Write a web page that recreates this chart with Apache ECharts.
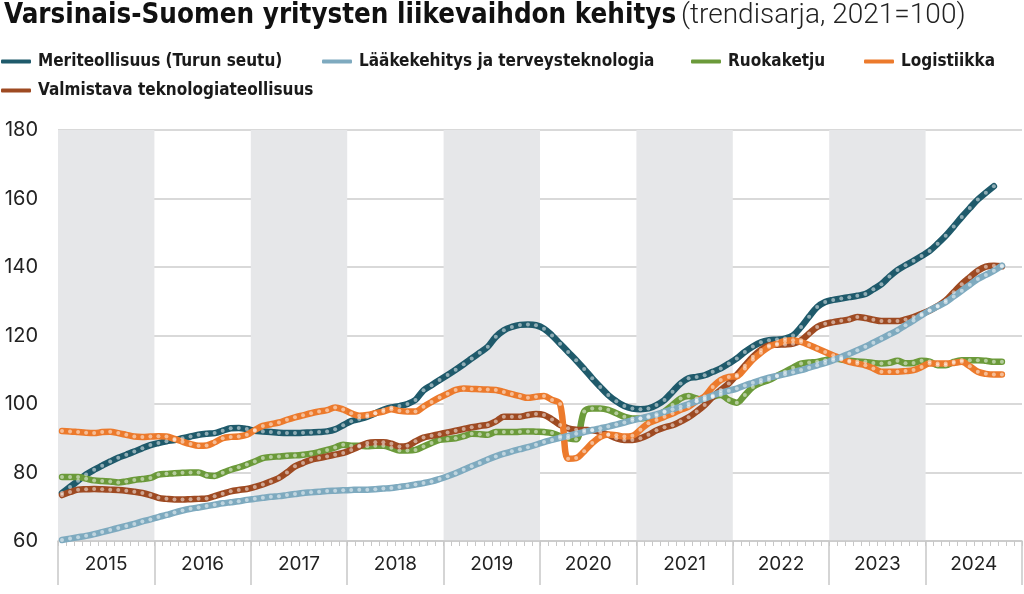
<!DOCTYPE html>
<html>
<head>
<meta charset="utf-8">
<script src="https://cdn.jsdelivr.net/npm/echarts@6/dist/echarts.min.js"></script>
<style>
html,body{margin:0;padding:0;background:#fff;}
#c{width:1024px;height:594px;}
</style>
</head>
<body>
<div id="c"></div>
<script>
const years = ['2015','2016','2017','2018','2019','2020','2021','2022','2023','2024'];
const seriesNames = ['Meriteollisuus (Turun seutu)','Lääkekehitys ja terveysteknologia','Ruokaketju','Logistiikka','Valmistava teknologiateollisuus'];
const colors = ['#1f5a6b','#7eaabf','#6b9a3a','#ec7a2c','#9e4a22'];

// Monthly values, Jan 2015 ->
const meriteollisuus = [74.0,75.8,77.6,79.4,80.8,82.0,83.2,84.3,85.2,86.1,87.1,88.0,
88.6,89.1,89.5,90.0,90.5,91.0,91.3,91.5,92.2,92.9,93.0,92.7,
92.2,92.0,91.8,91.6,91.5,91.5,91.6,91.7,91.8,92.0,92.6,93.8,
95.0,95.6,96.3,97.3,98.3,99.0,99.4,100.0,101.2,104.0,105.5,107.0,
108.5,110.0,111.6,113.3,115.0,116.7,119.6,121.5,122.5,123.1,123.2,123.0,
122.0,120.0,117.6,115.2,112.8,110.2,107.5,105.0,102.6,100.8,99.4,98.7,
98.5,98.7,99.7,101.2,103.6,106.0,107.5,107.9,108.4,109.4,110.4,111.8,
113.3,115.2,116.8,118.0,118.6,118.8,119.1,120.0,122.5,125.5,128.3,129.8,
130.4,130.8,131.2,131.6,132.1,133.5,135.0,137.2,139.1,140.5,141.8,143.2,
144.7,146.8,149.1,151.8,154.6,157.2,159.7,161.7,163.6];

const laakekehitys = [60.3,60.7,61.1,61.5,62.0,62.6,63.2,63.8,64.4,65.0,65.7,66.3,
67.0,67.6,68.3,68.9,69.4,69.8,70.2,70.6,71.0,71.3,71.6,72.0,
72.3,72.6,72.9,73.1,73.4,73.7,74.0,74.2,74.4,74.6,74.7,74.8,
74.9,75.0,75.0,75.1,75.3,75.5,75.8,76.1,76.5,76.9,77.4,78.1,
78.9,79.8,80.8,81.8,82.8,83.8,84.7,85.5,86.2,86.8,87.4,88.1,
88.9,89.5,90.1,90.7,91.3,91.8,92.4,92.9,93.4,94.0,94.6,95.2,
95.8,96.4,97.0,97.7,98.5,99.2,100.0,100.8,101.6,102.5,103.3,103.9,
104.5,105.4,106.2,107.0,107.7,108.2,108.7,109.3,109.9,110.6,111.3,112.0,
112.8,113.7,114.7,115.7,116.7,117.9,119.1,120.3,121.5,123.0,124.4,125.9,
127.3,128.5,129.7,131.4,133.1,134.8,136.5,137.7,138.9,140.4];

const ruokaketju = [78.7,78.7,78.7,78.2,77.7,77.5,77.4,77.1,77.4,77.8,78.1,78.4,
79.4,79.6,79.8,79.9,80.0,80.0,79.2,79.0,79.9,80.8,81.5,82.3,
83.2,84.2,84.5,84.7,84.9,85.0,85.2,85.5,86.0,86.6,87.3,88.1,
87.8,87.8,87.7,87.8,87.8,87.2,86.4,86.4,86.6,87.6,88.6,89.5,
89.8,90.0,90.6,91.3,91.2,91.0,91.8,91.8,91.8,91.9,92.0,91.9,
91.8,91.5,90.6,90.0,89.7,97.8,98.7,98.7,98.3,97.3,96.3,95.8,
95.8,96.1,96.5,97.8,99.7,101.6,102.3,101.6,101.2,102.1,102.6,101.2,
100.4,102.6,105.0,106.2,107.0,108.2,109.4,110.6,111.8,112.1,112.3,112.8,
113.3,113.0,112.6,112.4,112.3,112.0,111.8,112.0,112.6,111.9,112.0,112.6,
112.4,111.3,111.3,112.3,112.8,112.8,112.8,112.6,112.3,112.3];

const logistiikka = [92.1,92.0,91.8,91.6,91.5,91.8,91.9,91.5,91.0,90.5,90.4,90.5,
90.6,90.5,89.8,89.0,88.3,87.8,87.9,88.8,90.0,90.4,90.5,91.0,
92.4,93.6,94.1,94.6,95.4,96.1,96.7,97.3,97.8,98.2,99.0,98.4,
97.3,96.6,96.8,97.3,97.8,98.5,98.0,97.8,97.8,99.2,100.6,101.9,
103.0,104.1,104.5,104.4,104.3,104.2,104.1,103.5,102.9,102.3,101.8,102.1,
102.3,101.2,100.0,84.0,84.2,86.2,88.6,90.4,91.1,90.9,90.5,90.7,
92.5,94.4,95.3,96.3,97.2,98.3,99.2,100.9,102.2,105.0,107.0,107.9,
108.1,110.4,113.0,115.0,116.7,117.6,118.4,118.6,118.1,117.2,116.2,115.2,
114.2,113.2,112.3,111.8,111.3,110.4,109.4,109.4,109.4,109.6,109.9,110.8,
111.8,111.8,111.8,112.0,112.3,111.0,109.4,108.8,108.6,108.6];

const valmistava = [73.4,74.3,75.0,75.1,75.2,75.1,75.0,74.9,74.7,74.4,74.0,73.4,
72.6,72.3,72.1,72.1,72.2,72.3,72.4,73.1,73.8,74.5,74.9,75.2,
75.8,76.5,77.4,78.4,80.0,81.8,82.8,83.7,84.2,84.7,85.2,85.7,
86.6,87.6,88.6,88.8,88.8,88.4,87.6,87.8,89.1,90.2,90.7,91.2,
91.7,92.2,92.7,93.2,93.6,93.9,94.9,96.3,96.3,96.3,96.8,97.1,
96.8,95.5,93.9,92.9,92.5,92.4,92.3,91.8,91.0,90.0,89.5,89.5,
90.0,91.0,92.3,93.2,93.8,94.9,96.1,97.8,99.7,102.1,104.1,106.0,
108.5,111.2,113.8,115.8,117.1,117.3,117.4,117.6,118.6,120.6,122.5,123.4,
123.9,124.3,124.7,125.4,125.1,124.6,124.2,124.2,124.2,124.7,125.4,126.3,
127.3,128.6,130.2,132.6,135.0,137.0,138.9,140.1,140.4,140.2];

const yTicks = {min:60, max:180, interval:20};
const monthsTotal = 120;

const values = [meriteollisuus, laakekehitys, ruokaketju, logistiikka, valmistava];
const drawOrder = [0, 2, 4, 3, 1];

const narrow = '"Liberation Sans Narrow", "DejaVu Sans Condensed", Roboto, sans-serif';
const lightFont = 'Roboto, "Liberation Sans Narrow", sans-serif';
const numFont = 'Inter, Roboto, "Noto Sans", sans-serif';

const legendPos = [
  {left:1, top:53},
  {left:322, top:53},
  {left:691, top:53},
  {left:864, top:53},
  {left:1, top:82}
];

const chart = echarts.init(document.getElementById('c'), null, {renderer:'canvas'});
chart.setOption({
  animation:false,
  backgroundColor:'#fff',
  title:{
    left:4, top:2, padding:0,
    text:'{b|Varsinais-Suomen yritysten liikevaihdon kehitys} {l|(trendisarja, 2021=100)}',
    textStyle:{
      rich:{
        b:{fontFamily:narrow, fontWeight:'bold', fontSize:27.5, color:'#111'},
        l:{fontFamily:lightFont, fontWeight:300, fontSize:28, color:'#222'}
      }
    }
  },
  legend: seriesNames.map((n, k) => ({
    left:legendPos[k].left, top:legendPos[k].top, padding:0,
    data:[{name:n, icon:'roundRect', itemStyle:{color:colors[k], borderWidth:0}}],
    itemWidth:30, itemHeight:4,
    selectedMode:false,
    textStyle:{fontFamily:narrow, fontWeight:'bold', fontSize:17, color:'#1a1a1a', padding:[0,0,0,2]}
  })),
  grid:{left:58, right:2, top:130, bottom:53, containLabel:false},
  xAxis:[
    {
      type:'value', min:0, max:monthsTotal, interval:1,
      axisLine:{show:true, lineStyle:{color:'#c8c8c8', width:1.5}},
      axisTick:{show:true, length:5, lineStyle:{color:'#c8c8c8', width:1}},
      axisLabel:{show:false},
      splitLine:{show:false}
    },
    {
      type:'category', data:years, boundaryGap:true, position:'bottom',
      axisLine:{show:false},
      axisTick:{show:true, length:44, interval:0, lineStyle:{color:'#c8c8c8', width:1.5}},
      axisLabel:{fontFamily:numFont, fontSize:19, color:'#222', margin:14, interval:0},
      splitLine:{show:false},
      splitArea:{show:true, interval:0, areaStyle:{color:['#e6e7e9','rgba(255,255,255,0)']}}
    }
  ],
  yAxis:{
    type:'value', min:yTicks.min, max:yTicks.max, interval:yTicks.interval,
    axisLine:{show:false}, axisTick:{show:false},
    axisLabel:{fontFamily:numFont, fontSize:20, color:'#222', margin:20},
    splitLine:{lineStyle:{color:'#cdcdcd', width:1.5}}
  },
  series: drawOrder.map(k => ({
    name:seriesNames[k], type:'line', xAxisIndex:0,
    data: values[k].map((v, i) => [i + 0.5, v]),
    smooth:0.35,
    symbol:'circle', symbolSize:4, showSymbol:true,
    itemStyle:{color:'rgba(255,255,255,0.5)', borderWidth:0},
    lineStyle:{color:colors[k], width:6.5, cap:'round', join:'round'},
    emphasis:{disabled:true},
    z:2
  }))
});
</script>
</body>
</html>
